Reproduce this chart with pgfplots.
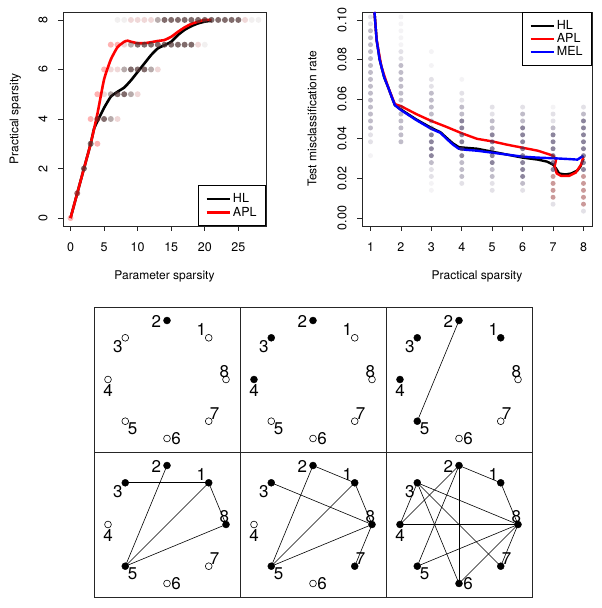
\documentclass[border=0pt]{standalone}
\usepackage{fontspec}
\setmainfont{TeX Gyre Heros}
\usepackage{pgfplots}
\pgfplotsset{compat=1.18}
\usepackage{pgfplotstable}

\definecolor{dotbrown}{rgb}{0.30,0.18,0.18}
\definecolor{dotpurp}{rgb}{0.25,0.20,0.36}
\definecolor{dotred}{rgb}{0.55,0.12,0.12}

\pgfplotsset{
  rplot/.style={scale only axis, anchor=south west,
    axis line style={line width=0.8pt, black!85},
    tick style={line width=0.8pt, black!85},
    tick align=outside, major tick length=5pt,
    xtick pos=lower, ytick pos=left,
    tick label style={font=\fontsize{12.5}{14}\selectfont},
    /pgf/number format/assume math mode=true,
    label style={font=\fontsize{12}{13}\selectfont},
    yticklabel style={rotate=90, anchor=south},
    yticklabel shift=7pt, xticklabel shift=8pt,
    scaled ticks=false,
    legend style={draw=black, line width=0.8pt, font=\fontsize{12.5}{14}\selectfont,
      inner xsep=7pt, inner ysep=6pt, row sep=-1.5pt},
    legend cell align=left,
    legend image code/.code={\draw[#1] (0pt,0pt) -- (23pt,0pt);},
  },
  dots/.style={only marks, mark=*, mark size=#1, forget plot},
  dotc/.style 2 args={mark options={fill=#1, fill opacity=#2, draw opacity=0}},
  net/.style={scale only axis, anchor=south west, width=146pt, height=145pt,
    xmin=-1.237, xmax=1.237, ymin=-1.229, ymax=1.229,
    xtick=\empty, ytick=\empty, clip=false,
    axis line style={line width=0.8pt, black!85}},
  edge/.style={black, line width=0.6pt, forget plot},
  full/.style={only marks, mark=*, mark size=3.5pt, mark options={fill=black, draw=black}},
  open/.style={only marks, mark=*, mark size=3.4pt, mark options={fill=white, draw=black, line width=0.6pt}},
  labs/.style={draw=none, mark=none, nodes near coords, point meta=explicit symbolic,
    nodes near coords align=center,
    every node near coord/.append style={font=\fontsize{17}{17}\selectfont, inner sep=0pt}},
}

\pgfplotstableread{
x y lab
0.583 0.847 1
-0.18 0.98 2
-0.831 0.557 3
-1.0 -0.186 4
-0.583 -0.831 5
0.153 -1.01 6
0.807 -0.577 7
0.97 0.136 8
}\netlabels

\begin{document}
\begin{tikzpicture}
\path[use as bounding box] (0pt,0pt) rectangle (602pt,608pt);

% ---- top left: practical vs parameter sparsity
\begin{axis}[rplot, at={(63pt,382pt)}, width=203pt, height=214pt,
  xmin=-1.12, xmax=29.12, ymin=-0.32, ymax=8.32,
  xtick={0,5,10,15,20,25}, ytick={0,2,4,6,8},
  xlabel={Parameter sparsity}, ylabel={Practical sparsity},
  x label style={at={(axis description cs:0.5,-0.238)}, anchor=center},
  y label style={at={(axis description cs:-0.235,0.5)}, anchor=center},
  legend style={at={(1,0)}, anchor=south east}]
\addplot[dots=3pt, dotc={dotbrown}{0.07}] coordinates {
 (7,8)(8,8)(27,8)(28,8)(20,7)};
\addplot[dots=3pt, dotc={red!50!dotbrown}{0.17}] coordinates {
 (9,8)(10,8)(11,8)(12,8)(26,8)(8,7)(19,7)(6,6)(7,6)(13,6)(5,5)(10,5)(7,4)};
\addplot[dots=3pt, dotc={red}{0.3}] coordinates {
 (0,0)(6,7)(7,7)(5,6)(4,5)(3,4)(4,3)};
\addplot[dots=3pt, dotc={dotbrown}{0.4}] coordinates {
 (13,8)(9,7)(8,6)(12,6)(6,5)(9,5)(6,4)};
\addplot[dots=3pt, dotc={dotbrown}{0.7}] coordinates {
 (14,8)(15,8)(16,8)(17,8)(18,8)(19,8)(20,8)(21,8)(22,8)(23,8)(24,8)(25,8)
 (10,7)(11,7)(12,7)(13,7)(14,7)(15,7)(16,7)(17,7)(18,7)
 (9,6)(10,6)(11,6)(7,5)(8,5)(5,4)(3,3)(2,2)};
\addplot[dots=3pt, dotc={dotred}{0.7}] coordinates {
 (4,4)(1,1)};
\addplot[black, line width=2.6pt, smooth, tension=0.3] coordinates {
 (0,0)(1,1)(2,2)(3,3)(3.5,3.6)(4,3.9)(5,4.45)(6,4.9)(7,5.1)(8,5.27)(9,5.56)(10,5.9)
 (11,6.24)(12,6.58)(13,6.85)(14,6.98)(15,7.12)(16,7.39)(17,7.6)(18,7.75)(19,7.86)(20,7.93)(21,7.97)};
\addlegendentry{HL}
\addplot[red, line width=2.6pt, smooth, tension=0.3] coordinates {
 (0,0)(1,1)(2,2)(3,3)(4,4.2)(5,5.6)(6,6.4)(7,6.9)(8,7.12)(8.5,7.16)(9,7.12)(10,7.06)(11,7.06)
 (12,7.1)(13,7.15)(14,7.19)(15,7.32)(16,7.52)(17,7.7)(18,7.84)(19,7.93)(20,8.0)(21,8.0)};
\addlegendentry{APL}
\end{axis}

% ---- top right: misclassification vs practical sparsity
\begin{axis}[rplot, at={(362pt,382pt)}, width=230pt, height=214pt,
  xmin=0.72, xmax=8.28, ymin=-0.004, ymax=0.104,
  xtick={1,2,3,4,5,6,7,8}, ytick={0,0.02,0.04,0.06,0.08,0.1},
  yticklabels={0.00,0.02,0.04,0.06,0.08,0.10},
  xlabel={Practical sparsity}, ylabel={Test misclassification rate},
  x label style={at={(axis description cs:0.5,-0.238)}, anchor=center},
  y label style={at={(axis description cs:-0.217,0.5)}, anchor=center},
  legend style={at={(1,1)}, anchor=north east}]
\addplot[dots=2.5pt, dotc={dotpurp}{0.06}] coordinates {
 (1,0.0315)(2,0.0875)(2,0.091)(2,0.0945)(2,0.098)(2,0.1015)
 (3,0.077)(3,0.084)(3,0.0175)(3,0.014)(4,0.07)(7,0.056)};
\addplot[dots=2.5pt, dotc={dotpurp}{0.15}] coordinates {
 (1,0.0385)(1,0.042)(1,0.098)(1,0.1015)(2,0.0805)(2,0.084)
 (3,0.0665)(3,0.07)(3,0.0245)(3,0.021)(4,0.0595)(4,0.063)(4,0.0175)
 (5,0.0525)(5,0.056)(5,0.0175)(5,0.014)(6,0.056)(6,0.014)
 (7,0.049)(7,0.0525)(7,0.007)(8,0.056)(8,0.0035)};
\addplot[dots=2.5pt, dotc={dotpurp}{0.33}] coordinates {
 (1,0.0455)(1,0.049)(1,0.0525)(1,0.056)(1,0.0595)(1,0.063)(1,0.0665)(1,0.07)
 (1,0.0735)(1,0.077)(1,0.0805)(1,0.084)(1,0.0875)(1,0.091)(1,0.0945)
 (2,0.0385)(2,0.042)(2,0.0455)(2,0.049)(2,0.0525)(2,0.056)(2,0.0595)(2,0.063)
 (2,0.0665)(2,0.07)(2,0.0735)(2,0.077)
 (3,0.0455)(3,0.049)(3,0.0525)(3,0.056)(3,0.0595)(3,0.063)(3,0.028)
 (4,0.0525)(4,0.056)(4,0.028)(4,0.0245)(4,0.021)
 (5,0.0455)(5,0.049)(5,0.0245)(5,0.021)
 (6,0.049)(6,0.0525)(6,0.0175)(7,0.0455)(8,0.0525)};
\addplot[dots=2.5pt, dotc={dotred}{0.45}] coordinates {
 (7,0.021)(7,0.0175)(7,0.014)(7,0.0105)
 (8,0.021)(8,0.0175)(8,0.014)(8,0.0105)(8,0.007)};
\addplot[dots=2.5pt, dotc={dotpurp}{0.6}] coordinates {
 (3,0.042)(3,0.0385)(3,0.035)(3,0.0315)
 (4,0.049)(4,0.0455)(4,0.042)(4,0.0385)(4,0.035)(4,0.0315)
 (5,0.042)(5,0.0385)(5,0.035)(5,0.0315)(5,0.028)
 (6,0.0455)(6,0.042)(6,0.0385)(6,0.035)(6,0.0315)(6,0.028)(6,0.0245)(6,0.021)
 (7,0.042)(7,0.0385)(7,0.035)(7,0.0315)(7,0.028)(7,0.0245)
 (8,0.049)(8,0.0455)(8,0.042)(8,0.0385)(8,0.035)(8,0.0315)(8,0.028)(8,0.0245)};
\addplot[black, line width=2.4pt] coordinates {
 (1.13,0.104)(1.2,0.09)(1.3,0.080)(1.36,0.0763)(1.45,0.071)(1.58,0.066)(1.7,0.061)(1.8,0.057)
 (2,0.0548)(2.5,0.0498)(3,0.0455)(3.3,0.0433)(3.5,0.0405)(3.7,0.0378)(3.9,0.0358)(4.1,0.0355)
 (4.5,0.035)(5,0.0335)(5.5,0.032)(6,0.0305)(6.5,0.0295)(6.8,0.0285)(7,0.027)(7.1,0.025)
 (7.2,0.0225)(7.4,0.022)(7.6,0.0225)(7.8,0.024)(7.9,0.026)(8,0.03)};
\addlegendentry{HL}
\addplot[red, line width=2.4pt] coordinates {
 (1.13,0.104)(1.2,0.09)(1.36,0.0763)(1.58,0.066)(1.8,0.0575)
 (2,0.0565)(2.5,0.0525)(3,0.049)(3.5,0.046)(4,0.0428)(4.5,0.040)(5,0.0387)(5.5,0.037)
 (6,0.0355)(6.5,0.034)(7,0.0315)(7.1,0.0295)(7.05,0.026)(7.12,0.0225)(7.26,0.0213)
 (7.53,0.0213)(7.75,0.023)(7.92,0.027)(8,0.031)};
\addlegendentry{APL}
\addplot[blue, line width=2.4pt] coordinates {
 (1.13,0.104)(1.2,0.09)(1.3,0.080)(1.36,0.0763)(1.45,0.071)(1.58,0.066)(1.7,0.061)(1.8,0.057)
 (2,0.0545)(2.5,0.0495)(3,0.045)(3.3,0.043)(3.5,0.040)(3.7,0.0372)(3.9,0.035)(4.1,0.0345)
 (4.5,0.034)(5,0.033)(5.5,0.032)(6,0.031)(6.5,0.0305)(7,0.0302)(7.5,0.0298)(7.8,0.0295)(8,0.0315)};
\addlegendentry{MEL}
\end{axis}

% ---- networks, top row
\begin{axis}[net, at={(94pt,156pt)}]
\addplot[full] coordinates {(0,1)};
\addplot[open] coordinates {(0.7071,0.7071)(-0.7071,0.7071)(-1,0)(-0.7071,-0.7071)(0,-1)(0.7071,-0.7071)(1,0)};
\addplot[labs] table[meta=lab] {\netlabels};
\end{axis}

\begin{axis}[net, at={(240pt,156pt)}]
\addplot[full] coordinates {(0,1)(-0.7071,0.7071)(-1,0)};
\addplot[open] coordinates {(0.7071,0.7071)(-0.7071,-0.7071)(0,-1)(0.7071,-0.7071)(1,0)};
\addplot[labs] table[meta=lab] {\netlabels};
\end{axis}

\begin{axis}[net, at={(386pt,156pt)}]
\addplot[edge] coordinates {(0,1)(-0.7071,-0.7071)};
\addplot[full] coordinates {(0.7071,0.7071)(0,1)(-0.7071,0.7071)(-1,0)(-0.7071,-0.7071)};
\addplot[open] coordinates {(0,-1)(0.7071,-0.7071)(1,0)};
\addplot[labs] table[meta=lab] {\netlabels};
\end{axis}

% ---- networks, bottom row
\begin{axis}[net, at={(94pt,11pt)}]
\addplot[edge] coordinates {(-0.7071,0.7071)(0.7071,0.7071)};
\addplot[edge] coordinates {(0,1)(-0.7071,-0.7071)};
\addplot[edge] coordinates {(0.7071,0.7071)(-0.7071,-0.7071)};
\addplot[edge] coordinates {(0.7071,0.7071)(1,0)};
\addplot[edge] coordinates {(1,0)(-0.7071,-0.7071)};
\addplot[full] coordinates {(0.7071,0.7071)(0,1)(-0.7071,0.7071)(-0.7071,-0.7071)(1,0)};
\addplot[open] coordinates {(-1,0)(0,-1)(0.7071,-0.7071)};
\addplot[labs] table[meta=lab] {\netlabels};
\end{axis}

\begin{axis}[net, at={(240pt,11pt)}]
\addplot[edge] coordinates {(0,1)(0.7071,0.7071)};
\addplot[edge] coordinates {(0,1)(-0.7071,-0.7071)};
\addplot[edge] coordinates {(-0.7071,0.7071)(1,0)};
\addplot[edge] coordinates {(0.7071,0.7071)(-0.7071,-0.7071)};
\addplot[edge] coordinates {(0.7071,0.7071)(1,0)};
\addplot[edge] coordinates {(1,0)(-0.7071,-0.7071)};
\addplot[edge] coordinates {(1,0)(0.7071,-0.7071)};
\addplot[full] coordinates {(0.7071,0.7071)(0,1)(-0.7071,0.7071)(-0.7071,-0.7071)(0.7071,-0.7071)(1,0)};
\addplot[open] coordinates {(-1,0)(0,-1)};
\addplot[labs] table[meta=lab] {\netlabels};
\end{axis}

\begin{axis}[net, at={(386pt,11pt)}]
\addplot[edge] coordinates {(0,1)(0.7071,0.7071)};
\addplot[edge] coordinates {(0.7071,0.7071)(1,0)};
\addplot[edge] coordinates {(0,1)(-1,0)};
\addplot[edge] coordinates {(0,1)(-0.7071,-0.7071)};
\addplot[edge] coordinates {(0,1)(0,-1)};
\addplot[edge] coordinates {(-0.7071,0.7071)(-1,0)};
\addplot[edge] coordinates {(-0.7071,0.7071)(1,0)};
\addplot[edge] coordinates {(-0.7071,0.7071)(0,-1)};
\addplot[edge] coordinates {(-0.7071,0.7071)(0.7071,-0.7071)};
\addplot[edge] coordinates {(-1,0)(1,0)};
\addplot[edge] coordinates {(-0.7071,-0.7071)(1,0)};
\addplot[edge] coordinates {(0,-1)(1,0)};
\addplot[edge] coordinates {(0.7071,-0.7071)(1,0)};
\addplot[full] coordinates {(0.7071,0.7071)(0,1)(-0.7071,0.7071)(-1,0)(-0.7071,-0.7071)(0,-1)(0.7071,-0.7071)(1,0)};
\addplot[labs] table[meta=lab] {\netlabels};
\end{axis}
\end{tikzpicture}
\end{document}
